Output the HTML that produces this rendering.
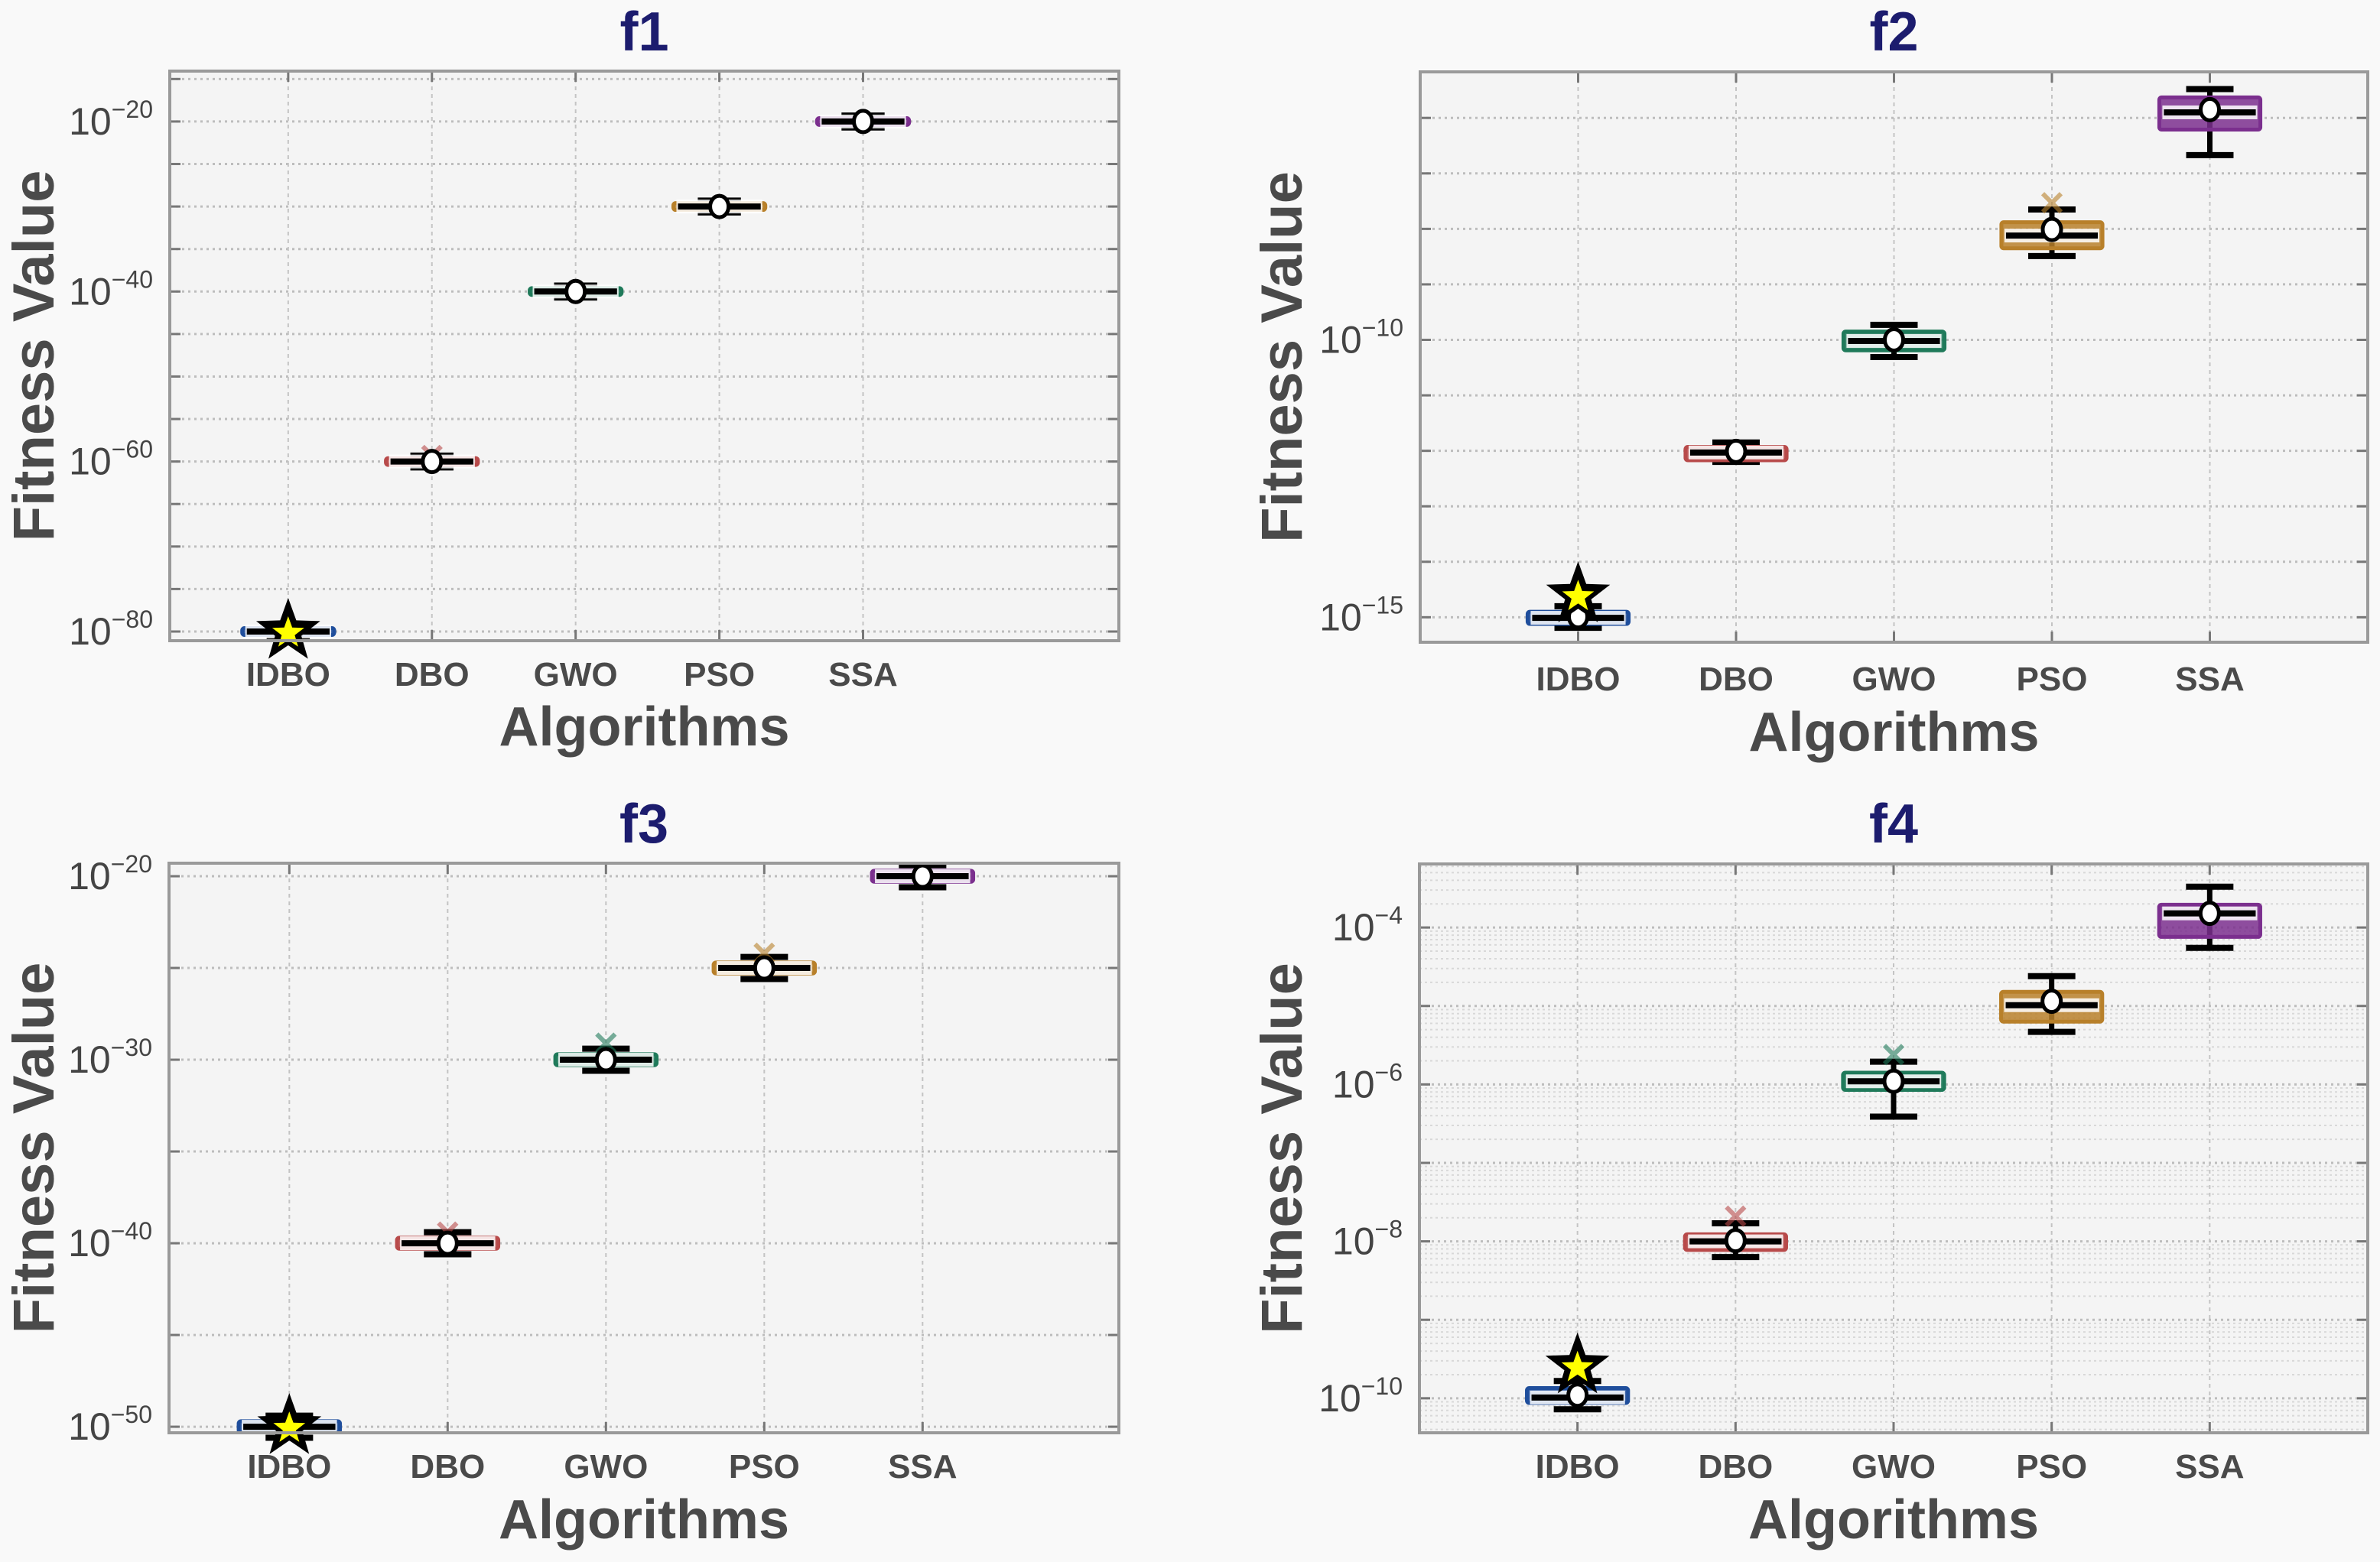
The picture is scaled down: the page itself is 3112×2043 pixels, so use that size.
<!DOCTYPE html>
<html><head><meta charset="utf-8">
<style>
html,body{margin:0;padding:0;background:#f9f9f9;}
svg{display:block;font-family:"Liberation Sans",Arial,sans-serif;}
</style></head>
<body>
<svg id="fig" width="3112" height="2043" viewBox="0 0 3112 2043" xmlns="http://www.w3.org/2000/svg">
<rect x="0" y="0" width="3112" height="2043" fill="#f9f9f9"/>
</svg>
<script>
// ---------- data (log10 fitness values) ----------
const categories = ["IDBO","DBO","GWO","PSO","SSA"];
const colors = ["#1f4e9c","#b84a4a","#1f7a5a","#b8802a","#7b2f8e"];

const f1Median = [-80,-60,-40,-30,-20];
const f1Mean   = [-80,-60,-40,-30,-20];
const f1Q1     = [-80.4,-60.4,-40.4,-30.4,-20.4];
const f1Q3     = [-79.6,-59.6,-39.6,-29.6,-19.6];
const f1WLo    = [-80.7,-60.7,-40.7,-30.7,-20.7];
const f1WHi    = [-79.3,-59.3,-39.3,-29.3,-19.3];
const f1Outlier= [null,-59.3,null,null,null];
const f1Star   = -80;

const f2Median = [-15.01,-12.03,-10.02,-8.12,-5.9];
const f2Mean   = [-14.99,-12.01,-10.0,-8.01,-5.85];
const f2Q1     = [-15.12,-12.17,-10.19,-8.35,-6.21];
const f2Q3     = [-14.9,-11.93,-9.85,-7.88,-5.63];
const f2WLo    = [-15.19,-12.2,-10.31,-8.49,-6.67];
const f2WHi    = [-14.8,-11.85,-9.73,-7.65,-5.48];
const f2Outlier= [null,null,null,-7.53,null];
const f2Star   = -14.6;

const f3Median = [-50,-40,-30,-25,-20];
const f3Mean   = [-50,-40,-30,-25,-20];
const f3Q1     = [-50.3,-40.3,-30.3,-25.3,-20.3];
const f3Q3     = [-49.7,-39.7,-29.7,-24.7,-19.7];
const f3WLo    = [-50.6,-40.6,-30.6,-25.6,-20.6];
const f3WHi    = [-49.4,-39.4,-29.4,-24.4,-19.4];
const f3Outlier= [null,-39.4,-29.1,-24.2,null];
const f3Star   = -50;

const f4Median = [-9.99,-8.0,-5.96,-4.99,-3.82];
const f4Mean   = [-9.96,-7.99,-5.96,-4.94,-3.82];
const f4Q1     = [-10.06,-8.11,-6.07,-5.2,-4.12];
const f4Q3     = [-9.87,-7.91,-5.85,-4.82,-3.71];
const f4WLo    = [-10.14,-8.2,-6.41,-5.33,-4.26];
const f4WHi    = [-9.78,-7.77,-5.71,-4.62,-3.48];
const f4Outlier= [null,-7.68,-5.62,null,null];
const f4Star   = -9.59;

const f1Ticks = [-20,-40,-60,-80];
const f2Ticks = [-10,-15];
const f3Ticks = [-20,-30,-40,-50];
const f4Ticks = [-4,-6,-8,-10];

// ---------- layout ----------
const NS = "http://www.w3.org/2000/svg";
const svg = document.getElementById("fig");
function mk(tag, attrs, parent){
  const e = document.createElementNS(NS, tag);
  for (const k in attrs) e.setAttribute(k, attrs[k]);
  (parent||svg).appendChild(e);
  return e;
}

const panels = [
 {id:"f1", L:222,R:1463,T:93,B:838, xmin:0.176,xmax:6.78, ymin:-81.08,ymax:-14.07, ticks:f1Ticks, gridStep:5, minor:false,
  med:f1Median,mean:f1Mean,q1:f1Q1,q3:f1Q3,wlo:f1WLo,whi:f1WHi,out:f1Outlier,star:f1Star,
  titleY:66, tickY:897, xlabY:975, ylabX:44},
 {id:"f2", L:1857,R:3096,T:94,B:840, xmin:0,xmax:6, ymin:-15.45,ymax:-5.17, ticks:f2Ticks, gridStep:1, minor:false,
  med:f2Median,mean:f2Mean,q1:f2Q1,q3:f2Q3,wlo:f2WLo,whi:f2WHi,out:f2Outlier,star:f2Star,
  titleY:66, tickY:903, xlabY:982, ylabX:1676},
 {id:"f3", L:221,R:1463,T:1129,B:1874, xmin:0.24,xmax:6.24, ymin:-50.33,ymax:-19.29, ticks:f3Ticks, gridStep:5, minor:false,
  med:f3Median,mean:f3Mean,q1:f3Q1,q3:f3Q3,wlo:f3WLo,whi:f3WHi,out:f3Outlier,star:f3Star,
  titleY:1102, tickY:1933, xlabY:2012, ylabX:44},
 {id:"f4", L:1856,R:3096,T:1130,B:1874, xmin:0,xmax:6, ymin:-10.44,ymax:-3.19, ticks:f4Ticks, gridStep:1, minor:true,
  med:f4Median,mean:f4Mean,q1:f4Q1,q3:f4Q3,wlo:f4WLo,whi:f4WHi,out:f4Outlier,star:f4Star,
  titleY:1102, tickY:1933, xlabY:2012, ylabX:1676}
];

function starPts(cx, cy, ro, ri){
  let p=[];
  for(let k=0;k<10;k++){
    const a = -Math.PI/2 + k*Math.PI/5;
    const r = k%2===0?ro:ri;
    p.push((cx+r*Math.cos(a)).toFixed(1)+","+(cy+r*Math.sin(a)).toFixed(1));
  }
  return p.join(" ");
}

panels.forEach(p=>{
  const g = mk("g",{});
  
  
  const X = v => p.L + (v - p.xmin)/(p.xmax-p.xmin)*(p.R-p.L);
  const Y = v => p.T + (p.ymax - v)/(p.ymax-p.ymin)*(p.B-p.T);

  const bg = mk("rect",{x:p.L,y:p.T,width:p.R-p.L,height:p.B-p.T,fill:"#f4f4f4"},g);
  
  

  if(p.minor){
    for(let d=Math.floor(p.ymin); d<p.ymax; d++){
      for(let m=2;m<=9;m++){
        const v = d + Math.log10(m);
        if(v<=p.ymin||v>=p.ymax) continue;
        const l = mk("line",{x1:p.L,x2:p.R,y1:Y(v),y2:Y(v),stroke:"#d8d8d8","stroke-width":2,"stroke-dasharray":"3 4"},g);
        
        
      }
    }
  }
  const start = Math.ceil(p.ymin/p.gridStep)*p.gridStep;
  for(let v=start; v<=p.ymax; v+=p.gridStep){
    const l = mk("line",{x1:p.L,x2:p.R,y1:Y(v),y2:Y(v),stroke:"#bdbdbd","stroke-width":3,"stroke-dasharray":"3 5"},g);
    
    
    mk("line",{x1:p.L,x2:p.L+14,y1:Y(v),y2:Y(v),stroke:"#777","stroke-width":3},g);
    mk("line",{x1:p.R-14,x2:p.R,y1:Y(v),y2:Y(v),stroke:"#777","stroke-width":3},g);
  }
  categories.forEach((c,i)=>{
    const x = X(i+1);
    const l = mk("line",{x1:x,x2:x,y1:p.T,y2:p.B,stroke:"#c4c4c4","stroke-width":2,"stroke-dasharray":"5 5"},g);
    
    
    mk("line",{x1:x,x2:x,y1:p.B-14,y2:p.B,stroke:"#777","stroke-width":3},g);
    mk("line",{x1:x,x2:x,y1:p.T,y2:p.T+14,stroke:"#777","stroke-width":3},g);
    const t = mk("text",{x:x,y:p.tickY,"text-anchor":"middle","font-size":44,"font-weight":"bold",fill:"#4a4a4a"},g);
    t.textContent = c;
    
    
  });
  p.ticks.forEach(v=>{
    const t = mk("text",{x:p.L-22,y:Y(v)+17,"text-anchor":"end","font-size":50,fill:"#444"},g);
    const a = mk("tspan",{},t); a.textContent="10";
    const b = mk("tspan",{dy:-22,"font-size":32},t); b.textContent="\u2212"+Math.abs(v);
    
    
  });

  const bw = 0.64, cw = 0.3;
  categories.forEach((c,i)=>{
    const bx = mk("g",{},g);
    
    
    const xc = X(i+1), hw = (X(i+1+bw/2)-X(i+1-bw/2))/2, ch = (X(i+1+cw/2)-X(i+1-cw/2))/2;
    const col = colors[i];
    mk("line",{x1:xc,x2:xc,y1:Y(p.whi[i]),y2:Y(p.wlo[i]),stroke:"#000","stroke-width":7},bx);
    mk("line",{x1:xc-ch,x2:xc+ch,y1:Y(p.whi[i]),y2:Y(p.whi[i]),stroke:"#000","stroke-width":8},bx);
    mk("line",{x1:xc-ch,x2:xc+ch,y1:Y(p.wlo[i]),y2:Y(p.wlo[i]),stroke:"#000","stroke-width":8},bx);
    const yt = Y(p.q3[i]), yb = Y(p.q1[i]);
    mk("rect",{x:xc-hw,y:yt,width:2*hw,height:Math.max(yb-yt,3),fill:col,"fill-opacity":0.85,stroke:col,"stroke-width":5,rx:3},bx);
    const ym = Y(p.med[i]);
    mk("rect",{x:xc-hw+4,y:ym-9,width:2*hw-8,height:18,fill:"#ffffff","fill-opacity":0.85},bx);
    mk("line",{x1:xc-hw+6,x2:xc+hw-6,y1:ym,y2:ym,stroke:"#000","stroke-width":8},bx);
    if(p.out[i]!==null){
      const yo = Y(p.out[i]);
      const o = mk("path",{d:`M${xc-12},${yo-12}L${xc+12},${yo+12}M${xc-12},${yo+12}L${xc+12},${yo-12}`,stroke:col,"stroke-opacity":0.6,"stroke-width":6,fill:"none"},bx);
      
      
    }
    const m = mk("ellipse",{cx:xc,cy:Y(p.mean[i]),rx:12,ry:14,fill:"#fff",stroke:"#000","stroke-width":5},bx);
    
    
  });
  const sx = X(1), sy = Y(p.star);
  const s1 = mk("polygon",{points:starPts(sx,sy,44,18),fill:"#000"},g);
  
  
  mk("polygon",{points:starPts(sx,sy+2,22,9),fill:"#ffff00"},g);

  const fr = mk("rect",{x:p.L,y:p.T,width:p.R-p.L,height:p.B-p.T,fill:"none",stroke:"#9a9a9a","stroke-width":4},g);
  
  

  const cx = (p.L+p.R)/2;
  const tt = mk("text",{x:cx,y:p.titleY,"text-anchor":"middle","font-size":72,"font-weight":"bold",fill:"#1c1c6e"},g);
  tt.textContent = p.id;
  
  
  const xl = mk("text",{x:cx,y:p.xlabY,"text-anchor":"middle","font-size":72,"font-weight":"bold",fill:"#4a4a4a"},g);
  xl.textContent = "Algorithms";
  
  
  const cy = (p.T+p.B)/2;
  const yl = mk("text",{x:p.ylabX,y:cy,"text-anchor":"middle","font-size":76,"font-weight":"bold",fill:"#4a4a4a",transform:`rotate(-90 ${p.ylabX} ${cy}) translate(0 26)`},g);
  yl.textContent = "Fitness Value";
  
  
});
</script>
</body></html>
